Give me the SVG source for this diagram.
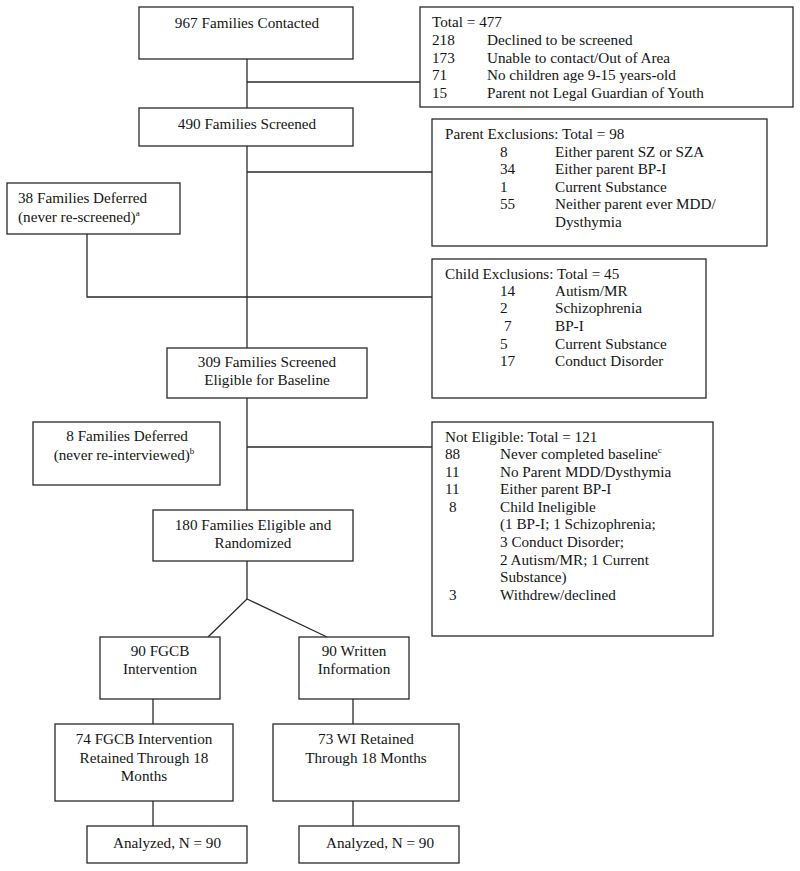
<svg xmlns="http://www.w3.org/2000/svg" width="800" height="871" viewBox="0 0 800 871">
<style>
rect{fill:#fff;stroke:#2a2a2a;stroke-width:1.3}
.c line,.c polyline{stroke:#2a2a2a;stroke-width:1.3;fill:none}
text{font-family:"Liberation Serif","Times New Roman",serif;font-size:15.2px;fill:#151515}
.m{text-anchor:middle}
.sup{font-size:9px}
</style>
<rect x="0" y="0" width="800" height="871" style="stroke:none"/>
<g class="c" id="connectors">
<line x1="247" y1="59" x2="247" y2="108"/>
<line x1="247" y1="82" x2="420" y2="82"/>
<line x1="247" y1="146" x2="247" y2="348"/>
<line x1="247" y1="172" x2="432" y2="172"/>
<polyline points="87,234 87,297 432,297"/>
<line x1="247" y1="398" x2="247" y2="510"/>
<line x1="247" y1="447" x2="432" y2="447"/>
<polyline points="208,637 247,599 327,637"/>
<line x1="247" y1="561" x2="247" y2="599"/>
<line x1="153" y1="699" x2="153" y2="724"/>
<line x1="353" y1="699" x2="353" y2="724"/>
<line x1="153" y1="801" x2="153" y2="826"/>
<line x1="353" y1="801" x2="353" y2="826"/>
</g>
<g id="contacted"><rect x="139" y="7" width="214" height="52"/><text class="m" x="247" y="28">967 Families Contacted</text></g>
<g id="excl1"><rect x="420" y="7" width="373" height="100"/>
<text x="432" y="27">Total = 477</text>
<text x="432" y="45">218</text><text x="487" y="45">Declined to be screened</text>
<text x="432" y="62.5">173</text><text x="487" y="62.5">Unable to contact/Out of Area</text>
<text x="432" y="80">71</text><text x="487" y="80">No children age 9-15 years-old</text>
<text x="432" y="97.5">15</text><text x="487" y="97.5">Parent not Legal Guardian of Youth</text>
</g>
<g id="screened"><rect x="139" y="108" width="214" height="38"/><text class="m" x="247" y="129">490 Families Screened</text></g>
<g id="parentExcl"><rect x="432" y="119" width="335" height="127"/>
<text x="445" y="139">Parent Exclusions: Total = 98</text>
<text x="500" y="157">8</text><text x="555" y="157">Either parent SZ or SZA</text>
<text x="500" y="174">34</text><text x="555" y="174">Either parent BP-I</text>
<text x="500" y="192">1</text><text x="555" y="192">Current Substance</text>
<text x="500" y="209">55</text><text x="555" y="209">Neither parent ever MDD/</text>
<text x="555" y="227">Dysthymia</text>
</g>
<g id="deferred38"><rect x="7" y="183" width="173" height="51"/>
<text x="18" y="203">38 Families Deferred</text>
<text x="18" y="222">(never re-screened)<tspan class="sup" dy="-6">a</tspan></text>
</g>
<g id="childExcl"><rect x="432" y="259" width="274" height="139"/>
<text x="445" y="279">Child Exclusions: Total = 45</text>
<text x="500" y="296">14</text><text x="555" y="296">Autism/MR</text>
<text x="500" y="313">2</text><text x="555" y="313">Schizophrenia</text>
<text x="504" y="331">7</text><text x="555" y="331">BP-I</text>
<text x="500" y="349">5</text><text x="555" y="349">Current Substance</text>
<text x="500" y="366">17</text><text x="555" y="366">Conduct Disorder</text>
</g>
<g id="eligibleBaseline"><rect x="167" y="348" width="200" height="50"/>
<text class="m" x="267" y="367">309 Families Screened</text>
<text class="m" x="267" y="385">Eligible for Baseline</text>
</g>
<g id="deferred8"><rect x="33" y="422" width="187" height="63"/>
<text class="m" x="127" y="441">8 Families Deferred</text>
<text class="m" x="124" y="460">(never re-interviewed)<tspan class="sup" dy="-6">b</tspan></text>
</g>
<g id="notEligible"><rect x="432" y="422" width="281" height="214"/>
<text x="445" y="442">Not Eligible: Total = 121</text>
<text x="445" y="459">88</text><text x="500" y="459">Never completed baseline<tspan class="sup" dy="-6">c</tspan></text>
<text x="445" y="477">11</text><text x="500" y="477">No Parent MDD/Dysthymia</text>
<text x="445" y="494">11</text><text x="500" y="494">Either parent BP-I</text>
<text x="449" y="512">8</text><text x="500" y="512">Child Ineligible</text>
<text x="500" y="529">(1 BP-I; 1 Schizophrenia;</text>
<text x="500" y="547">3 Conduct Disorder;</text>
<text x="500" y="565">2 Autism/MR; 1 Current</text>
<text x="500" y="582">Substance)</text>
<text x="449" y="600">3</text><text x="500" y="600">Withdrew/declined</text>
</g>
<g id="randomized"><rect x="153" y="510" width="200" height="51"/>
<text class="m" x="253" y="530">180 Families Eligible and</text>
<text class="m" x="253" y="548">Randomized</text>
</g>
<g id="fgcb"><rect x="100" y="637" width="120" height="62"/>
<text class="m" x="160" y="656">90 FGCB</text>
<text class="m" x="160" y="674">Intervention</text>
</g>
<g id="written"><rect x="299" y="637" width="110" height="62"/>
<text class="m" x="354" y="656">90 Written</text>
<text class="m" x="354" y="674">Information</text>
</g>
<g id="fgcbRetained"><rect x="55" y="724" width="178" height="77"/>
<text class="m" x="144" y="744">74 FGCB Intervention</text>
<text class="m" x="144" y="763">Retained Through 18</text>
<text class="m" x="144" y="781">Months</text>
</g>
<g id="wiRetained"><rect x="273" y="724" width="186" height="77"/>
<text class="m" x="366" y="744">73 WI Retained</text>
<text class="m" x="366" y="763">Through 18 Months</text>
</g>
<g id="analyzedFgcb"><rect x="87" y="826" width="160" height="37"/><text class="m" x="167" y="848">Analyzed, N = 90</text></g>
<g id="analyzedWi"><rect x="299" y="826" width="160" height="37"/><text class="m" x="380" y="848">Analyzed, N = 90</text></g>
</svg>
